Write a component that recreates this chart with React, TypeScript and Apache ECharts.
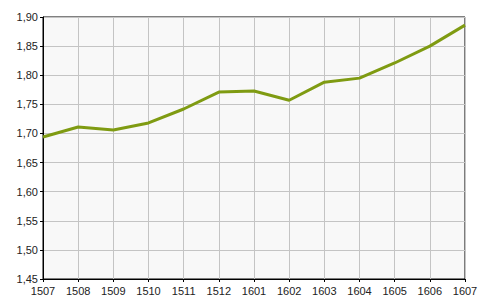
import React, { useEffect, useRef } from "react";
import * as echarts from "echarts";

const categories = ["1507", "1508", "1509", "1510", "1511", "1512", "1601", "1602", "1603", "1604", "1605", "1606", "1607"];
const values = [1.694, 1.711, 1.706, 1.718, 1.742, 1.771, 1.773, 1.757, 1.788, 1.795, 1.821, 1.85, 1.886];

export default function App() {
  const ref = useRef<HTMLDivElement>(null);
  useEffect(() => {
    const chart = echarts.init(ref.current!, null, { renderer: "svg" });
    chart.setOption({
      animation: false,
      backgroundColor: "#ffffff",
      grid: {
        left: 43, right: 25, top: 17, bottom: 26,
        show: true, backgroundColor: "#f8f8f8", borderColor: "#000", borderWidth: 1,
      },
      xAxis: {
        type: "category",
        data: categories,
        boundaryGap: false,
        axisLine: { lineStyle: { color: "#000", width: 1 } },
        axisTick: { show: true, alignWithLabel: true, length: 3, lineStyle: { color: "#000" } },
        axisLabel: { color: "#222", fontFamily: "Liberation Sans", fontSize: 11, margin: 6, interval: 0 },
        splitLine: { show: true, lineStyle: { color: "#c4c4c4", width: 1 } },
      },
      yAxis: {
        type: "value",
        min: 1.45,
        max: 1.9,
        interval: 0.05,
        axisLine: { show: true, lineStyle: { color: "#000", width: 1 } },
        axisTick: { show: true, length: 3, lineStyle: { color: "#000" } },
        axisLabel: {
          color: "#222", fontFamily: "Liberation Sans", fontSize: 11, margin: 5,
          formatter: (v: number) => v.toFixed(2).replace(".", ","),
        },
        splitLine: { show: true, lineStyle: { color: "#c4c4c4", width: 1 } },
      },
      series: [
        {
          type: "line",
          data: values,
          symbol: "none",
          lineStyle: { color: "#7f9b12", width: 3 },
        },
      ],
    });
    return () => chart.dispose();
  }, []);
  return <div ref={ref} style={{ position: "fixed", left: 0, top: 0, width: 490, height: 305 }} />;
}
